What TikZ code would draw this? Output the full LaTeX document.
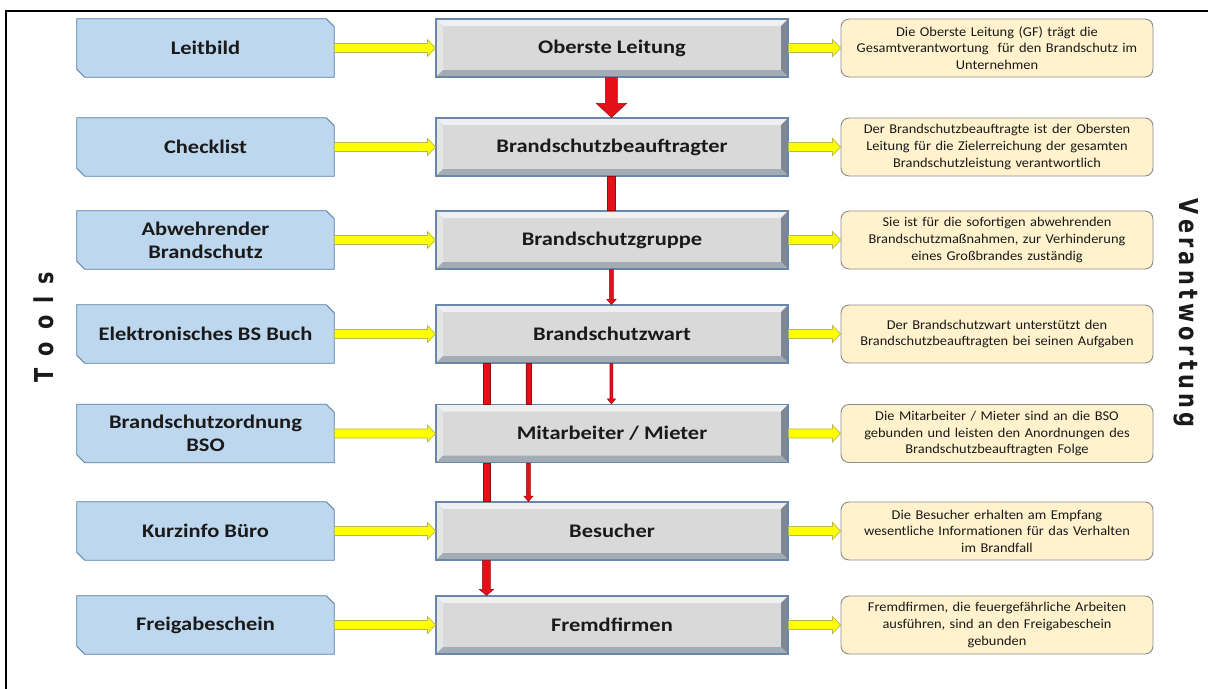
\documentclass[tikz,border=0pt]{standalone}
\usepackage{fontspec}
\usepackage{graphicx}
\setmainfont{Carlito}
\newfontfamily\boxfont{Carlito}[FakeStretch=1.17]
\newfontfamily\notefont{Carlito}[FakeStretch=1.07]
\newfontfamily\sidefont{DejaVu Sans}
\usetikzlibrary{calc,backgrounds}

\definecolor{toolfill}{HTML}{BDD7EE}
\definecolor{tooldraw}{HTML}{5B7FA6}
\definecolor{rolefill}{HTML}{D9D9D9}
\definecolor{roledraw}{HTML}{6A86A8}
\definecolor{bevtop}{HTML}{EEF0F2}
\definecolor{bevleft}{HTML}{E3E6E9}
\definecolor{bevright}{HTML}{7E8893}
\definecolor{bevbottom}{HTML}{A3ABB4}
\definecolor{notefill}{HTML}{FFF2CC}
\definecolor{notedraw}{HTML}{8C8C8C}
\definecolor{arrowyellow}{HTML}{FFFF00}
\definecolor{arrowedge}{HTML}{B5B55A}
\definecolor{arrowred}{HTML}{E3101A}
\definecolor{arrowrededge}{HTML}{9C0A10}
\definecolor{ink}{HTML}{1A1A1A}

% tool box: node plus its snipped outline (top right and bottom left corners cut) behind it
\newcommand\toolbox[3]{%
  \node[tool] (#1) at (#2) {#3};
  \begin{pgfonlayer}{background}
    \draw[toolshape] (#1.north west) -- ([xshift=-6pt]#1.north east)
      -- ([yshift=-6pt]#1.north east) -- (#1.south east)
      -- ([xshift=6pt]#1.south west) -- ([yshift=6pt]#1.south west) -- cycle;
  \end{pgfonlayer}}
% horizontal yellow block arrow from the east side of #1 to the west side of #2
\newcommand\yarrow[2]{%
  \draw[yellowarrow] let \p1=(#1.east), \p2=(#2.west) in
    (\x1,\y1+3.4pt) -- (\x2-6pt,\y1+3.4pt) -- (\x2-6pt,\y1+6.4pt) -- (\x2,\y1)
    -- (\x2-6pt,\y1-6.4pt) -- (\x2-6pt,\y1-3.4pt) -- (\x1,\y1-3.4pt) -- cycle;}
% vertical red block arrow: from #1 to #2 at x-offset #3 (px) from the left edge,
% shaft half width #4, head half width #5, head length #6
\newcommand\rarrow[6]{%
  \draw[redarrow] let \p1=($(#1.south west)+(#3,0)$), \p2=(#2.north) in
    (\x1-#4,\y1) -- (\x1-#4,\y2+#6) -- (\x1-#5,\y2+#6) -- (\x1,\y2)
    -- (\x1+#5,\y2+#6) -- (\x1+#4,\y2+#6) -- (\x1+#4,\y1) -- cycle;}

\tikzset{
  tool/.style={rectangle, minimum width=192.75pt, minimum height=43.5pt, inner sep=0pt,
    align=center, text=ink, font=\boxfont\fontsize{14.4}{17.5}\selectfont\bfseries},
  toolshape/.style={fill=toolfill, draw=tooldraw, line width=0.7pt},
  role/.style={rectangle, minimum width=264pt, minimum height=43.5pt, inner sep=0pt,
    fill=rolefill, draw=roledraw, line width=0.8pt, text=ink,
    font=\boxfont\fontsize{14.4}{17.5}\selectfont\bfseries,
    path picture={
      \def\bv{5.25pt}
      \fill[bevtop] (path picture bounding box.north west) -- (path picture bounding box.north east)
        -- ([shift={(-\bv,-\bv)}]path picture bounding box.north east)
        -- ([shift={(\bv,-\bv)}]path picture bounding box.north west) -- cycle;
      \fill[bevleft] (path picture bounding box.north west) -- (path picture bounding box.south west)
        -- ([shift={(\bv,\bv)}]path picture bounding box.south west)
        -- ([shift={(\bv,-\bv)}]path picture bounding box.north west) -- cycle;
      \fill[bevright] (path picture bounding box.north east) -- (path picture bounding box.south east)
        -- ([shift={(-\bv,\bv)}]path picture bounding box.south east)
        -- ([shift={(-\bv,-\bv)}]path picture bounding box.north east) -- cycle;
      \fill[bevbottom] (path picture bounding box.south west) -- (path picture bounding box.south east)
        -- ([shift={(-\bv,\bv)}]path picture bounding box.south east)
        -- ([shift={(\bv,\bv)}]path picture bounding box.south west) -- cycle;
    }},
  note/.style={rectangle, rounded corners=6pt, minimum width=234pt, minimum height=43.5pt,
    text width=230pt, inner sep=0pt, align=center, fill=notefill, draw=notedraw,
    line width=0.7pt, text=ink, font=\notefont\fontsize{10.1}{12.4}\selectfont},
  yellowarrow/.style={fill=arrowyellow, draw=arrowedge, line width=0.5pt},
  redarrow/.style={fill=arrowred, draw=arrowrededge, line width=0.4pt},
  sidelabel/.style={text=ink, inner sep=0pt, font=\sidefont\bfseries\fontsize{19.5}{20}\selectfont},
}

\begin{document}
\begin{tikzpicture}[x=0.75pt,y=-0.75pt]
\useasboundingbox (0,0) rectangle (1208,689);
\begin{pgfonlayer}{background}
  \fill[white] (0,0) rectangle (1208,689);
\end{pgfonlayer}
\draw[line width=1.1pt, black] (6,689) -- (6,11) -- (1208,11);

% tools column
\toolbox{t1}{205.5,48}{Leitbild}
\toolbox{t2}{205.5,147}{Checklist}
\toolbox{t3}{205.5,240}{Abwehrender\\Brandschutz}
\toolbox{t4}{205.5,334}{Elektronisches BS Buch}
\toolbox{t5}{205.5,433.5}{Brandschutzordnung\\BSO}
\toolbox{t6}{205.5,531}{Kurzinfo Büro}
\toolbox{t7}{205.5,625}{Freigabeschein}

% roles column
\node[role] (r1) at (612,48) {Oberste Leitung};
\node[role] (r2) at (612,147) {Brandschutzbeauftragter};
\node[role] (r3) at (612,240) {Brandschutzgruppe};
\node[role] (r4) at (612,334) {Brandschutzwart};
\node[role] (r5) at (612,433.5) {Mitarbeiter / Mieter};
\node[role] (r6) at (612,531) {Besucher};
\node[role] (r7) at (612,625) {Fremdfirmen};

% responsibilities column
\node[note] (n1) at (997,48) {Die Oberste Leitung (GF) trägt die\\Gesamtverantwortung\ \ für den Brandschutz im\\Unternehmen};
\node[note] (n2) at (997,147) {Der Brandschutzbeauftragte ist der Obersten\\Leitung für die Zielerreichung der gesamten\\Brandschutzleistung verantwortlich};
\node[note] (n3) at (997,240) {Sie ist für die sofortigen abwehrenden\\Brandschutzmaßnahmen, zur Verhinderung\\eines Großbrandes zuständig};
\node[note] (n4) at (997,334) {Der Brandschutzwart unterstützt den\\Brandschutzbeauftragten bei seinen Aufgaben};
\node[note] (n5) at (997,433.5) {Die Mitarbeiter / Mieter sind an die BSO\\gebunden und leisten den Anordnungen des\\Brandschutzbeauftragten Folge};
\node[note] (n6) at (997,531) {Die Besucher erhalten am Empfang\\wesentliche Informationen für das Verhalten\\im Brandfall};
\node[note] (n7) at (997,625) {Fremdfirmen, die feuergefährliche Arbeiten\\ausführen, sind an den Freigabeschein\\gebunden};

% yellow arrows
\foreach \i in {1,...,7} {
  \yarrow{t\i}{r\i}
  \yarrow{r\i}{n\i}
}

% red arrows between the roles
\rarrow{r1}{r2}{176}{4.5pt}{11.25pt}{10.5pt}
\rarrow{r2}{r3}{176}{3pt}{3pt}{0pt}
\rarrow{r3}{r4}{176}{1.5pt}{3.4pt}{3.75pt}
\rarrow{r4}{r5}{51}{2.6pt}{2.6pt}{0pt}
\rarrow{r4}{r5}{93}{1.9pt}{1.9pt}{0pt}
\rarrow{r4}{r5}{176}{1.1pt}{3pt}{3.75pt}
\rarrow{r5}{r6}{51}{2.6pt}{2.6pt}{0pt}
\rarrow{r5}{r6}{93}{1.5pt}{3.4pt}{4pt}
\rarrow{r6}{r7}{51}{3pt}{5.25pt}{4.5pt}

% side labels
\node[sidelabel, rotate=90, anchor=base] (tools) at (53,327)
  {\scalebox{0.8}[1]{T\hspace{11.3pt}o\hspace{11.3pt}o\hspace{11.3pt}l\hspace{11.3pt}s}};
\node[sidelabel, rotate=-90, anchor=base] (resp) at (1179,313)
  {\scalebox{0.8}[1]{V\hspace{4pt}e\hspace{4pt}r\hspace{4pt}a\hspace{4pt}n\hspace{4pt}t\hspace{4pt}w\hspace{4pt}o\hspace{4pt}r\hspace{4pt}t\hspace{4pt}u\hspace{4pt}n\hspace{4pt}g}};
\end{tikzpicture}
\end{document}
